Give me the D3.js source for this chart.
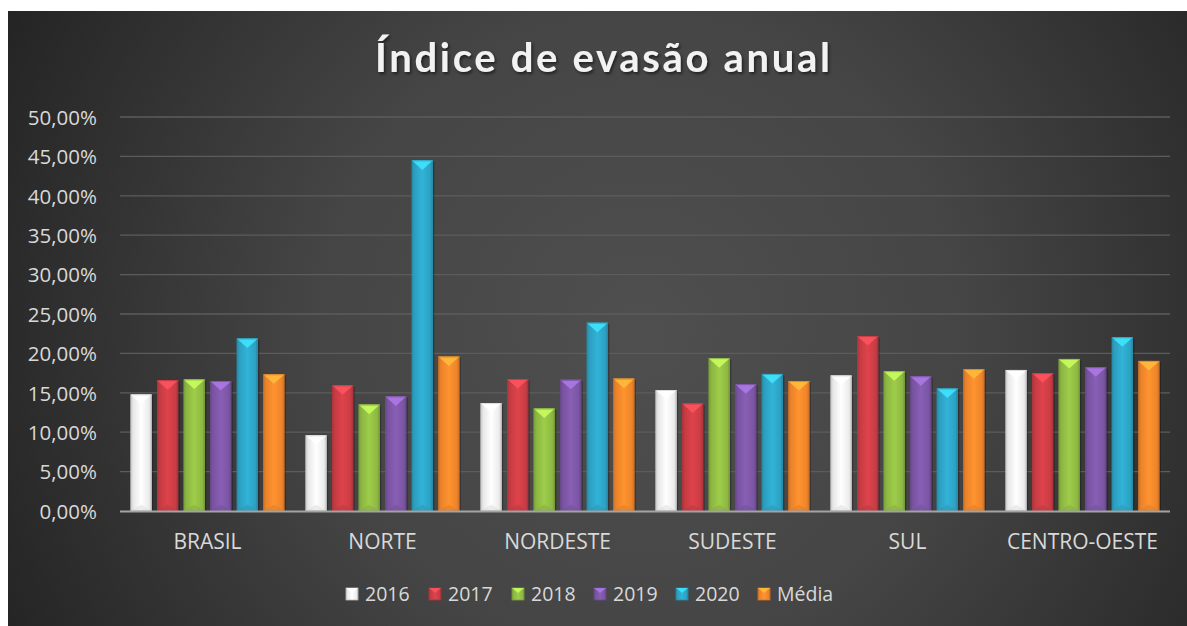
<!DOCTYPE html>
<html><head><meta charset="utf-8">
<script src="https://cdn.jsdelivr.net/npm/d3@7"></script>
<style>html,body{margin:0;padding:0;background:#fff;}svg{display:block;}</style>
</head><body>
<svg id="chart" width="1187" height="626"></svg>
<script>
const categories = ["BRASIL","NORTE","NORDESTE","SUDESTE","SUL","CENTRO-OESTE"];
const seriesNames = ["2016","2017","2018","2019","2020","Média"];
const v2016 = [14.8, 9.6, 13.7, 15.35, 17.2, 17.9];
const v2017 = [16.6, 15.95, 16.75, 13.65, 22.2, 17.5];
const v2018 = [16.7, 13.5, 13.0, 19.4, 17.75, 19.3];
const v2019 = [16.5, 14.55, 16.65, 16.1, 17.1, 18.25];
const v2020 = [21.9, 44.5, 23.9, 17.4, 15.55, 22.05];
const vMedia = [17.35, 19.6, 16.8, 16.5, 18.0, 19.05];
const yTicks = [0,5,10,15,20,25,30,35,40,45,50];
const seriesValues = [v2016, v2017, v2018, v2019, v2020, vMedia];
const colors = ["#f4f4f4","#cf3e46","#93bf45","#7f58a9","#2ea7c9","#f7892c"];

const svg = d3.select("#chart");
const defs = svg.append("defs");

// background
const bg = defs.append("radialGradient").attr("id","bg").attr("gradientUnits","userSpaceOnUse")
  .attr("cx",640).attr("cy",330).attr("r",720);
bg.append("stop").attr("offset","0").attr("stop-color","#4f4f4f");
bg.append("stop").attr("offset","0.45").attr("stop-color","#454545");
bg.append("stop").attr("offset","1").attr("stop-color","#232323");
svg.append("rect").attr("x",8).attr("y",11).attr("width",1179).attr("height",615).attr("fill","url(#bg)");

const shadow = defs.append("filter").attr("id","tshadow").attr("x","-10%").attr("y","-30%").attr("width","120%").attr("height","160%");
shadow.append("feDropShadow").attr("dx",1.5).attr("dy",2).attr("stdDeviation",1.5).attr("flood-color","#000").attr("flood-opacity",0.55);

// bar gradients
colors.forEach((c,i)=>{
  const g = defs.append("linearGradient").attr("id","bar"+i).attr("x1","0").attr("x2","1").attr("y1","0").attr("y2","0");
  const base = d3.color(c);
  g.append("stop").attr("offset","0").attr("stop-color", base.darker(0.6));
  g.append("stop").attr("offset","0.12").attr("stop-color", base.darker(0.15));
  g.append("stop").attr("offset","0.5").attr("stop-color", base.brighter(0.2));
  g.append("stop").attr("offset","0.88").attr("stop-color", base.darker(0.1));
  g.append("stop").attr("offset","1").attr("stop-color", base.darker(0.7));
});

const plotLeft = 120, plotRight = 1170, plotTop = 117, plotBottom = 511;
const y = d3.scaleLinear().domain([0,50]).range([plotBottom, plotTop]);
const x0 = d3.scaleBand().domain(categories).range([plotLeft,plotRight]).padding(0);
const x1 = d3.scaleBand().domain(seriesNames).range([10.5, x0.bandwidth()-10.5]).paddingInner(0.2).paddingOuter(0);

// gridlines
svg.append("g").selectAll("line").data(yTicks.filter(t=>t>0)).join("line")
  .attr("x1",plotLeft).attr("x2",plotRight).attr("y1",d=>y(d)).attr("y2",d=>y(d))
  .attr("stroke","#5c5c5c").attr("stroke-width",1.3);

// y axis labels
const fmt = d => d.toFixed(2).replace(".",",") + "%";
const yAxis = d3.axisLeft(y).tickValues(yTicks).tickFormat(fmt).tickSize(0).tickPadding(0);
const ya = svg.append("g").attr("transform",`translate(97,0)`).call(yAxis);
ya.select(".domain").remove();
ya.selectAll("text").attr("fill","#d9d9d9").attr("font-family","'Open Sans', sans-serif").attr("font-size",20.5).attr("dy","0.36em");

// bars
const groups = svg.append("g").selectAll("g").data(categories).join("g")
  .attr("transform", d=>`translate(${x0(d)},0)`);
groups.each(function(cat, ci){
  const g = d3.select(this);
  seriesNames.forEach((s, si)=>{
    const v = seriesValues[si][ci];
    const bx = x1(s), bw = x1.bandwidth(), by = y(v), bh = y(0)-y(v);
    const base = d3.color(colors[si]);
    g.append("rect").attr("x",bx+1.5).attr("y",by+1.5).attr("width",bw).attr("height",bh-1.5).attr("fill","#000").attr("opacity",0.25);
    g.append("rect").attr("x",bx).attr("y",by).attr("width",bw).attr("height",bh).attr("fill",`url(#bar${si})`);
    const tri = d3.path();
    tri.moveTo(bx, by); tri.lineTo(bx+bw, by); tri.lineTo(bx+bw/2, by+Math.min(bw*0.45, bh)); tri.closePath();
    g.append("path").attr("d",tri.toString()).attr("fill", si===0 ? "#ffffff" : base.brighter(0.9)).attr("opacity",0.85);
    const btri = d3.path();
    btri.moveTo(bx, by+bh); btri.lineTo(bx+bw, by+bh); btri.lineTo(bx+bw/2, by+bh-Math.min(bw*0.3, bh)); btri.closePath();
    g.append("path").attr("d",btri.toString()).attr("fill", base.darker(0.3)).attr("opacity",0.5);
    g.append("rect").attr("x",bx+0.5).attr("y",by+0.5).attr("width",bw-1).attr("height",bh-1).attr("fill","none")
      .attr("stroke", si===0 ? "#cfcfcf" : base.darker(0.4)).attr("stroke-width",1).attr("opacity",0.7);
  });
});

// baseline
svg.append("line").attr("x1",plotLeft).attr("x2",plotRight).attr("y1",plotBottom+0.5).attr("y2",plotBottom+0.5).attr("stroke","#a3a3a3").attr("stroke-width",2.2);

// x axis labels
const xAxis = d3.axisBottom(x0).tickSize(0).tickPadding(0);
const xa = svg.append("g").attr("transform",`translate(0,${plotBottom})`).call(xAxis);
xa.select(".domain").remove();
xa.selectAll("text").attr("fill","#d9d9d9").attr("font-family","'Open Sans', sans-serif").attr("font-size",21).attr("dy","0").attr("y",38);

// title
const titleText = "Índice de evasão anual";
const title = svg.append("text").attr("x",602.5).attr("y",72).attr("text-anchor","middle")
  .attr("fill","#f2f2f2").attr("font-family","Lato, 'Open Sans', sans-serif").attr("font-weight","bold")
  .attr("font-size",40).attr("filter","url(#tshadow)").text(titleText);
{
  const n = titleText.length;
  const w0 = title.node().getComputedTextLength();
  const ls = (455 - w0)/(n-1);
  title.attr("letter-spacing", ls);
  title.attr("x", 602.5 + ls/2);
}

// legend
const legendX = [346, 429, 512, 594, 676, 758];
const lg = svg.append("g").selectAll("g").data(seriesNames).join("g")
  .attr("transform",(d,i)=>`translate(${legendX[i]},588)`);
lg.append("rect").attr("width",12).attr("height",12).attr("fill",(d,i)=>`url(#bar${i})`)
  .attr("stroke",(d,i)=>i===0?"#bbb":d3.color(colors[i]).darker(0.5)).attr("stroke-width",0.8);
lg.append("path").attr("d","M0,0 L12,0 L6,5 Z").attr("fill",(d,i)=>i===0?"#fff":d3.color(colors[i]).brighter(0.9)).attr("opacity",0.85);
lg.append("text").attr("x",19).attr("y",6).attr("dy","0.36em").attr("fill","#d9d9d9")
  .attr("font-family","'Open Sans', sans-serif").attr("font-size",19.5).text(d=>d);
</script>
</body></html>
